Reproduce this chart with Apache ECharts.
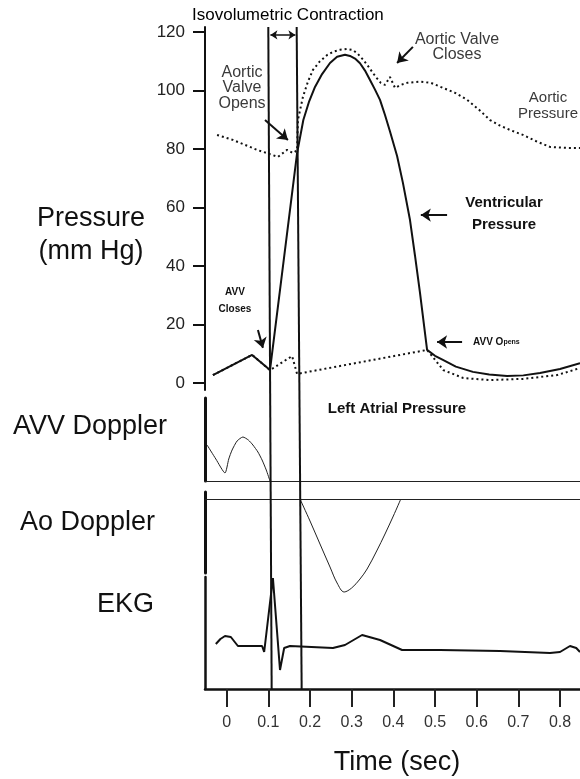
<!DOCTYPE html>
<html><head><meta charset="utf-8">
<script src="https://cdn.jsdelivr.net/npm/echarts@6/dist/echarts.min.js"></script>
<style>html,body{margin:0;padding:0;background:#fff}#c{width:580px;height:779px}</style>
</head><body><div id="c"></div>
<script>
// ---- data ----
const pressureTicks = [0, 20, 40, 60, 80, 100, 120];
const timeTicks = [0, 0.1, 0.2, 0.3, 0.4, 0.5, 0.6, 0.7, 0.8];

const ventT = [-0.033, 0.061, 0.104, 0.169, 0.184, 0.198, 0.212, 0.229, 0.248, 0.265, 0.284, 0.296, 0.308, 0.320, 0.332, 0.344, 0.356, 0.368, 0.380, 0.392, 0.409, 0.423, 0.440, 0.452, 0.464, 0.481, 0.500, 0.519, 0.550, 0.591, 0.630, 0.673, 0.712, 0.752, 0.800, 0.848];
const ventP = [2.7, 9.6, 4.4, 78.6, 89.9, 96.3, 101.2, 105.6, 109.4, 111.5, 112.2, 111.8, 110.9, 109.3, 106.8, 103.6, 100.3, 96.8, 91.6, 86.0, 77.6, 68.4, 55.7, 43.5, 30.8, 11.3, 9.3, 7.9, 5.6, 3.8, 2.9, 2.4, 2.6, 3.4, 4.8, 6.8];

const aortT = [-0.023, 0.015, 0.073, 0.123, 0.145, 0.159, 0.169, 0.171, 0.183, 0.195, 0.207, 0.224, 0.241, 0.256, 0.272, 0.288, 0.303, 0.315, 0.327, 0.339, 0.351, 0.360, 0.370, 0.380, 0.392, 0.404, 0.418, 0.433, 0.464, 0.490, 0.519, 0.548, 0.577, 0.605, 0.632, 0.656, 0.680, 0.711, 0.745, 0.776, 0.810, 0.848];
const aortP = [84.8, 83.1, 79.7, 77.3, 79.7, 78.6, 79.5, 89.9, 97.8, 103.0, 107.0, 110.0, 112.1, 113.3, 113.9, 114.2, 113.8, 112.5, 110.6, 108.4, 106.0, 104.3, 102.6, 101.9, 104.6, 100.9, 101.9, 102.6, 103.0, 102.6, 100.9, 99.2, 96.8, 93.5, 89.9, 88.0, 86.5, 84.8, 82.5, 80.7, 80.4, 80.3];

const atrialT = [-0.033, 0.061, 0.104, 0.157, 0.169, 0.481, 0.520, 0.568, 0.632, 0.711, 0.793, 0.848];
const atrialP = [2.7, 9.6, 4.4, 9.2, 3.1, 11.3, 4.4, 1.7, 1.0, 1.4, 2.7, 5.1];

const avvT = [-0.047, -0.026, -0.004, 0.005, 0.013, 0.025, 0.039, 0.052, 0.063, 0.075, 0.085, 0.095, 0.104];
const avvV = [36, 22, 8, 22, 31, 40, 44, 41, 36, 29, 21, 11, 0];

const aoT = [0.176, 0.200, 0.225, 0.248, 0.265, 0.282, 0.300, 0.320, 0.337, 0.360, 0.380, 0.400, 0.418];
const aoV = [0, -22, -46, -68, -84, -93, -89, -80, -70, -52, -35, -17, 0];

const ekgT = [-0.026, -0.015, -0.004, 0.010, 0.027, 0.085, 0.090, 0.111, 0.128, 0.138, 0.152, 0.255, 0.284, 0.325, 0.368, 0.421, 0.512, 0.656, 0.776, 0.800, 0.824, 0.839, 0.848];
const ekgV = [6, 11, 14, 13, 4, 4, -2, 72, -20, 2, 4, 2, 5, 15, 10, 0, 0, -1, -3, -2, 4, 2, -2];

// valve timing lines (time at top, time at bottom)
const valveLineTopT = [0.0999, 0.168];
const valveLineBottomT = [0.108, 0.180];

// ---- helpers / layout ----
const zip = (a, b) => a.map((v, i) => [v, b[i]]);
const FONT = '"Liberation Sans", Arial, Helvetica, sans-serif';
const XMIN = -0.052, XMAX = 0.848;
const L = 205, W = 375;
const INK = '#111';

function xAx(idx, extra) {
  return Object.assign({
    type: 'value', gridIndex: idx, min: XMIN, max: XMAX, show: false,
    splitLine: { show: false }
  }, extra || {});
}
function yBar(idx, min, max, width, extra) {
  return Object.assign({
    type: 'value', gridIndex: idx, min: min, max: max,
    axisLine: { show: true, onZero: false, lineStyle: { color: INK, width: width } },
    axisTick: { show: false }, axisLabel: { show: false }, splitLine: { show: false }
  }, extra || {});
}

// annotation arrows in pressure-panel coordinates [t0,p0,t1,p1]
const arrows = [
  [0.092, 89.9, 0.147, 83.1],
  [0.447, 114.9, 0.409, 109.4],
  [0.529, 57.4, 0.466, 57.4],
  [0.075, 18.1, 0.087, 12.0],
  [0.565, 14.0, 0.505, 14.0],
  [0.457, -3.1, 0.457, 8.9]
];

const chart = echarts.init(document.getElementById('c'));
chart.setOption({
  animation: false,
  backgroundColor: '#fff',
  grid: [
    { left: L, width: W, top: 27, height: 363 },
    { left: L, width: W, top: 398, height: 83 },
    { left: L, width: W, top: 492, height: 81 },
    { left: L, width: W, top: 577, height: 112 },
    { left: L, width: W, top: 27, height: 662 }
  ],
  xAxis: [
    xAx(0),
    xAx(1, { show: true, axisLine: { show: true, onZero: true, lineStyle: { color: '#222', width: 1 } }, axisTick: { show: false }, axisLabel: { show: false } }),
    xAx(2, { show: true, axisLine: { show: true, onZero: true, lineStyle: { color: '#222', width: 1 } }, axisTick: { show: false }, axisLabel: { show: false } }),
    xAx(3, {
      show: true,
      axisLine: { show: true, onZero: false, lineStyle: { color: INK, width: 2.5 } },
      axisTick: { show: true, customValues: timeTicks, length: 18, lineStyle: { color: '#222', width: 2 } },
      axisLabel: { show: true, customValues: timeTicks, margin: 26, fontSize: 16, fontFamily: FONT, color: '#333',
        formatter: v => (Math.abs(v) < 1e-9 ? '0' : (+v).toFixed(1)) }
    }),
    xAx(4)
  ],
  yAxis: [
    yBar(0, -2.4, 121.7, 2, {
      axisTick: { show: true, customValues: pressureTicks, length: 12, lineStyle: { color: INK, width: 2 } },
      axisLabel: { show: true, customValues: pressureTicks, margin: 20, fontSize: 17, fontFamily: FONT, color: '#222' }
    }),
    yBar(1, 0, 83, 3),
    yBar(2, -74, 7, 3),
    yBar(3, -39, 73, 2.5),
    { type: 'value', gridIndex: 4, min: 0, max: 1, show: false, splitLine: { show: false } }
  ],
  series: [
    { type: 'line', xAxisIndex: 0, yAxisIndex: 0, data: zip(atrialT, atrialP), showSymbol: false, symbol: 'none', clip: false,
      lineStyle: { color: INK, width: 2, type: [2, 3] }, z: 2 },
    { type: 'line', xAxisIndex: 0, yAxisIndex: 0, data: zip(aortT, aortP), showSymbol: false, symbol: 'none', clip: false,
      lineStyle: { color: INK, width: 2, type: [2, 3] }, z: 2 },
    { type: 'line', xAxisIndex: 0, yAxisIndex: 0, data: zip(ventT, ventP), showSymbol: false, symbol: 'none', clip: false,
      lineStyle: { color: INK, width: 2 }, z: 3,
      markLine: {
        silent: true, symbol: ['none', 'arrow'], symbolSize: 10, animation: false,
        label: { show: false }, lineStyle: { color: INK, width: 2, type: 'solid' },
        emphasis: { disabled: true },
        data: arrows.map(a => [{ coord: [a[0], a[1]] }, { coord: [a[2], a[3]] }])
      } },
    { type: 'line', xAxisIndex: 1, yAxisIndex: 1, data: zip(avvT, avvV), showSymbol: false, symbol: 'none', clip: false,
      smooth: 0.2, lineStyle: { color: '#222', width: 1 } },
    { type: 'line', xAxisIndex: 2, yAxisIndex: 2, data: zip(aoT, aoV), showSymbol: false, symbol: 'none', clip: false,
      smooth: 0.35, lineStyle: { color: '#222', width: 1 } },
    { type: 'line', xAxisIndex: 3, yAxisIndex: 3, data: zip(ekgT, ekgV), showSymbol: false, symbol: 'none', clip: false,
      lineStyle: { color: INK, width: 2 } },
    { type: 'line', xAxisIndex: 4, yAxisIndex: 4, data: [[valveLineTopT[0], 1], [valveLineBottomT[0], 0]], showSymbol: false, symbol: 'none',
      lineStyle: { color: INK, width: 2 }, z: 4,
      markLine: {
        silent: true, symbol: ['arrow', 'arrow'], symbolSize: 7, animation: false,
        label: { show: false }, lineStyle: { color: INK, width: 1.5, type: 'solid' },
        emphasis: { disabled: true },
        data: [[{ coord: [0.105, 0.988] }, { coord: [0.165, 0.988] }]]
      } },
    { type: 'line', xAxisIndex: 4, yAxisIndex: 4, data: [[valveLineTopT[1], 1], [valveLineBottomT[1], 0]], showSymbol: false, symbol: 'none',
      lineStyle: { color: INK, width: 2 }, z: 4 }
  ],
  graphic: [
    { type: 'text', x: 192, y: 15, style: { text: 'Isovolumetric Contraction', font: '17px ' + FONT, fill: '#000', align: 'left', verticalAlign: 'middle' } },
    { type: 'text', x: 242, y: 88, style: { text: 'Aortic\nValve\nOpens', font: '16px ' + FONT, lineHeight: 15.5, fill: '#3a3a3a', align: 'center', verticalAlign: 'middle' } },
    { type: 'text', x: 457, y: 47, style: { text: 'Aortic Valve\nCloses', font: '16px ' + FONT, lineHeight: 15.5, fill: '#3a3a3a', align: 'center', verticalAlign: 'middle' } },
    { type: 'text', x: 548, y: 106, style: { text: 'Aortic\nPressure', font: '15px ' + FONT, lineHeight: 16, fill: '#3a3a3a', align: 'center', verticalAlign: 'middle' } },
    { type: 'text', x: 504, y: 214, style: { text: 'Ventricular\nPressure', font: 'bold 15px ' + FONT, lineHeight: 22, fill: '#111', align: 'center', verticalAlign: 'middle' } },
    { type: 'text', x: 235, y: 301, style: { text: 'AVV\nCloses', font: 'bold 10px ' + FONT, lineHeight: 17, fill: '#111', align: 'center', verticalAlign: 'middle' } },
    { type: 'text', x: 473, y: 342, style: { text: '{a|AVV O}{b|pens}', align: 'left', verticalAlign: 'middle',
        rich: { a: { font: 'bold 10px ' + FONT, fill: '#111' }, b: { font: 'bold 7px ' + FONT, fill: '#111' } } } },
    { type: 'text', x: 397, y: 409, style: { text: 'Left Atrial Pressure', font: 'bold 15px ' + FONT, fill: '#111', align: 'center', verticalAlign: 'middle' } },
    { type: 'text', x: 91, y: 235, style: { text: 'Pressure\n(mm Hg)', font: '27px ' + FONT, lineHeight: 33, fill: '#111', align: 'center', verticalAlign: 'middle' } },
    { type: 'text', x: 13, y: 427, style: { text: 'AVV Doppler', font: '27px ' + FONT, fill: '#111', align: 'left', verticalAlign: 'middle' } },
    { type: 'text', x: 20, y: 523, style: { text: 'Ao Doppler', font: '27px ' + FONT, fill: '#111', align: 'left', verticalAlign: 'middle' } },
    { type: 'text', x: 97, y: 605, style: { text: 'EKG', font: '27px ' + FONT, fill: '#111', align: 'left', verticalAlign: 'middle' } },
    { type: 'text', x: 397, y: 763, style: { text: 'Time (sec)', font: '27px ' + FONT, fill: '#111', align: 'center', verticalAlign: 'middle' } }
  ]
});
</script>
</body></html>
